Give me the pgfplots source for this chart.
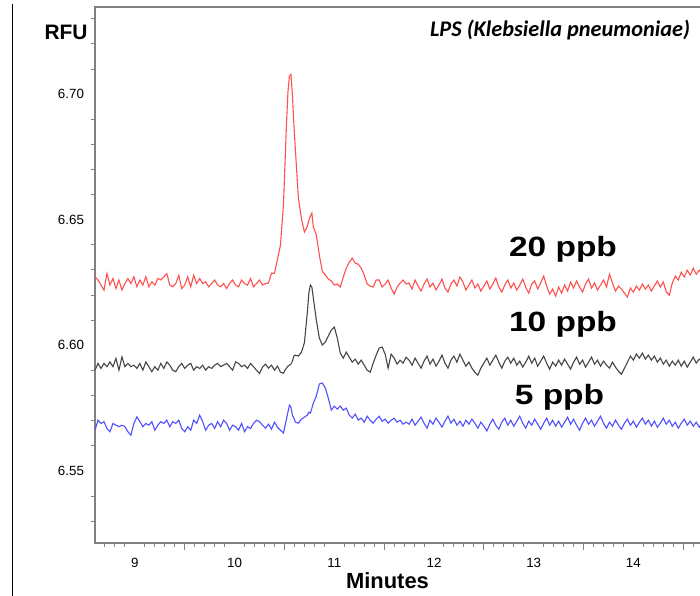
\documentclass[border=0pt]{standalone}
\usepackage{pgfplots}
\pgfplotsset{compat=1.18}
\usepackage{pgfplotstable}
\usepackage{fontspec}
\setmainfont{Liberation Sans}
\newfontfamily\calibri{Carlito}

\definecolor{spine}{RGB}{128,128,128}
\definecolor{trRed}{RGB}{255,80,80}
\definecolor{trBlack}{RGB}{70,70,70}
\definecolor{trBlue}{RGB}{80,80,255}

% minutes, 20 ppb, 10 ppb, 5 ppb (RFU)
\pgfplotstableread{
x r k u
8.60 6.6273 6.5901 6.5662
8.63 6.6260 6.5928 6.5702
8.66 6.6240 6.5908 6.5689
8.69 6.6220 6.5928 6.5696
8.72 6.6286 6.5915 6.5669
8.75 6.6240 6.5934 6.5656
8.78 6.6266 6.5915 6.5689
8.81 6.6226 6.5948 6.5682
8.84 6.6260 6.5901 6.5676
8.87 6.6220 6.5954 6.5682
8.90 6.6246 6.5915 6.5676
8.93 6.6266 6.5928 6.5656
8.96 6.6246 6.5915 6.5642
8.99 6.6273 6.5921 6.5689
9.02 6.6233 6.5908 6.5715
9.05 6.6260 6.5928 6.5696
9.08 6.6240 6.5901 6.5676
9.11 6.6273 6.5934 6.5689
9.14 6.6233 6.5915 6.5682
9.17 6.6253 6.5895 6.5696
9.20 6.6240 6.5915 6.5662
9.23 6.6266 6.5901 6.5682
9.26 6.6260 6.5928 6.5696
9.29 6.6273 6.5908 6.5689
9.32 6.6286 6.5934 6.5702
9.35 6.6240 6.5921 6.5676
9.38 6.6233 6.5901 6.5696
9.41 6.6246 6.5895 6.5689
9.44 6.6279 6.5915 6.5702
9.47 6.6226 6.5928 6.5669
9.50 6.6240 6.5908 6.5656
9.53 6.6273 6.5921 6.5676
9.56 6.6233 6.5928 6.5662
9.59 6.6279 6.5901 6.5702
9.62 6.6246 6.5915 6.5689
9.65 6.6266 6.5908 6.5722
9.68 6.6246 6.5921 6.5696
9.71 6.6253 6.5901 6.5662
9.74 6.6233 6.5915 6.5682
9.77 6.6246 6.5908 6.5689
9.80 6.6260 6.5921 6.5669
9.83 6.6240 6.5928 6.5696
9.86 6.6233 6.5915 6.5676
9.89 6.6246 6.5921 6.5702
9.92 6.6226 6.5928 6.5689
9.95 6.6246 6.5915 6.5662
9.98 6.6260 6.5901 6.5682
10.01 6.6240 6.5934 6.5676
10.04 6.6233 6.5928 6.5662
10.07 6.6260 6.5915 6.5689
10.10 6.6246 6.5921 6.5656
10.13 6.6240 6.5908 6.5676
10.16 6.6266 6.5928 6.5669
10.19 6.6233 6.5915 6.5689
10.22 6.6246 6.5901 6.5702
10.25 6.6260 6.5888 6.5696
10.28 6.6240 6.5913 6.5682
10.31 6.6246 6.5925 6.5670
10.34 6.6248 6.5909 6.5686
10.37 6.6287 6.5921 6.5666
10.40 6.6287 6.5901 6.5694
10.43 6.6343 6.5917 6.5674
10.46 6.6399 6.5893 6.5662
10.49 6.6558 6.5889 6.5651
10.505 6.6717 6.5901 6.5678
10.52 6.6877 6.5909 6.5706
10.535 6.7008 6.5917 6.5734
10.55 6.7072 6.5921 6.5762
10.565 6.7079 6.5925 6.5754
10.58 6.6996 6.5937 6.5722
10.595 6.6877 6.5957 6.5710
10.61 6.6777 6.5961 6.5694
10.64 6.6586 6.5957 6.5690
10.67 6.6506 6.5973 6.5706
10.70 6.6451 6.6009 6.5714
10.73 6.6475 6.6132 6.5722
10.745 6.6498 6.6208 6.5734
10.76 6.6514 6.6240 6.5730
10.775 6.6526 6.6232 6.5750
10.79 6.6471 6.6188 6.5770
10.82 6.6439 6.6100 6.5798
10.85 6.6359 6.6029 6.5846
10.88 6.6295 6.6001 6.5850
10.91 6.6280 6.6013 6.5830
10.94 6.6264 6.6037 6.5790
10.97 6.6256 6.6061 6.5742
11.00 6.6240 6.6073 6.5758
11.03 6.6244 6.6029 6.5746
11.06 6.6232 6.5969 6.5758
11.09 6.6272 6.5949 6.5742
11.12 6.6307 6.5973 6.5750
11.15 6.6331 6.5953 6.5722
11.18 6.6347 6.5933 6.5710
11.21 6.6327 6.5945 6.5726
11.24 6.6323 6.5925 6.5702
11.27 6.6307 6.5941 6.5710
11.30 6.6280 6.5921 6.5694
11.33 6.6244 6.5901 6.5718
11.36 6.6236 6.5893 6.5702
11.39 6.6232 6.5929 6.5690
11.42 6.6260 6.5961 6.5706
11.45 6.6260 6.5989 6.5718
11.48 6.6232 6.5993 6.5698
11.51 6.6244 6.5965 6.5706
11.54 6.6260 6.5909 6.5690
11.57 6.6228 6.5965 6.5702
11.60 6.6204 6.5949 6.5710
11.63 6.6232 6.5925 6.5694
11.66 6.6248 6.5941 6.5702
11.69 6.6260 6.5929 6.5686
11.72 6.6244 6.5953 6.5694
11.75 6.6248 6.5941 6.5686
11.78 6.6224 6.5921 6.5706
11.81 6.6260 6.5949 6.5682
11.84 6.6236 6.5929 6.5698
11.87 6.6216 6.5909 6.5714
11.90 6.6244 6.5937 6.5690
11.93 6.6264 6.5957 6.5670
11.96 6.6232 6.5925 6.5702
11.99 6.6248 6.5945 6.5686
12.02 6.6220 6.5917 6.5710
12.05 6.6240 6.5937 6.5694
12.08 6.6264 6.5961 6.5674
12.11 6.6228 6.5929 6.5698
12.14 6.6212 6.5909 6.5718
12.17 6.6244 6.5941 6.5690
12.20 6.6260 6.5957 6.5706
12.23 6.6236 6.5933 6.5682
12.26 6.6272 6.5965 6.5698
12.29 6.6252 6.5941 6.5678
12.32 6.6220 6.5917 6.5702
12.35 6.6240 6.5933 6.5686
12.38 6.6260 6.5909 6.5706
12.41 6.6228 6.5893 6.5690
12.44 6.6244 6.5881 6.5670
12.47 6.6216 6.5909 6.5694
12.50 6.6236 6.5929 6.5678
12.53 6.6256 6.5949 6.5659
12.56 6.6224 6.5921 6.5686
12.59 6.6244 6.5941 6.5706
12.62 6.6268 6.5961 6.5682
12.65 6.6232 6.5933 6.5666
12.68 6.6212 6.5909 6.5694
12.71 6.6240 6.5937 6.5710
12.74 6.6260 6.5953 6.5682
12.77 6.6228 6.5929 6.5702
12.80 6.6248 6.5949 6.5678
12.83 6.6220 6.5921 6.5698
12.86 6.6240 6.5937 6.5718
12.89 6.6264 6.5913 6.5690
12.92 6.6232 6.5933 6.5670
12.95 6.6208 6.5957 6.5698
12.98 6.6244 6.5929 6.5682
13.01 6.6256 6.5949 6.5706
13.04 6.6224 6.5917 6.5686
13.07 6.6248 6.5937 6.5666
13.10 6.6276 6.5957 6.5690
13.13 6.6236 6.5929 6.5710
13.16 6.6204 6.5905 6.5682
13.19 6.6224 6.5933 6.5702
13.22 6.6196 6.5917 6.5678
13.25 6.6232 6.5941 6.5698
13.28 6.6208 6.5921 6.5674
13.31 6.6240 6.5945 6.5694
13.34 6.6216 6.5925 6.5714
13.37 6.6252 6.5905 6.5686
13.40 6.6228 6.5933 6.5706
13.43 6.6256 6.5953 6.5682
13.46 6.6232 6.5925 6.5662
13.49 6.6212 6.5941 6.5690
13.52 6.6244 6.5913 6.5710
13.55 6.6264 6.5933 6.5686
13.58 6.6228 6.5953 6.5702
13.61 6.6248 6.5925 6.5678
13.64 6.6220 6.5941 6.5698
13.67 6.6240 6.5917 6.5718
13.70 6.6260 6.5937 6.5690
13.73 6.6232 6.5921 6.5670
13.76 6.6283 6.5909 6.5694
13.79 6.6248 6.5933 6.5678
13.82 6.6216 6.5913 6.5702
13.85 6.6236 6.5897 6.5682
13.88 6.6224 6.5885 6.5666
13.91 6.6208 6.5909 6.5690
13.94 6.6192 6.5933 6.5706
13.97 6.6228 6.5957 6.5682
14.00 6.6212 6.5941 6.5698
14.03 6.6236 6.5965 6.5674
14.06 6.6220 6.5949 6.5694
14.09 6.6244 6.5969 6.5710
14.12 6.6224 6.5945 6.5686
14.15 6.6240 6.5961 6.5702
14.18 6.6216 6.5941 6.5678
14.21 6.6236 6.5957 6.5698
14.24 6.6256 6.5933 6.5674
14.27 6.6232 6.5949 6.5690
14.30 6.6252 6.5925 6.5710
14.33 6.6212 6.5941 6.5686
14.36 6.6200 6.5917 6.5702
14.39 6.6248 6.5937 6.5678
14.42 6.6276 6.5921 6.5694
14.45 6.6260 6.5941 6.5670
14.48 6.6291 6.5917 6.5690
14.51 6.6272 6.5937 6.5706
14.54 6.6299 6.5913 6.5682
14.57 6.6280 6.5933 6.5698
14.60 6.6307 6.5953 6.5678
14.63 6.6283 6.5929 6.5694
14.66 6.6299 6.5945 6.5674
14.69 6.6287 6.5933 6.5690
}\traces

\begin{document}
\begin{tikzpicture}
\useasboundingbox (0,0) rectangle (350bp,298bp);
% page edge rule at the far left
\draw[black, line width=0.6bp] (6.15bp,0) -- (6.15bp,296bp);

\begin{axis}[
  at={(47.5bp,26.5bp)}, anchor=south west,
  scale only axis,
  width=304.5bp, height=268bp,
  xmin=8.6, xmax=14.708,
  ymin=6.5213, ymax=6.7347,
  axis line style={spine, line width=0.6bp},
  tick pos=left, tick align=outside,
  tick style={spine, line width=0.5bp},
  major tick length=0pt, minor tick length=2bp,
  xtick={9,10,11,12,13,14},
  minor xtick={8.7,8.8,8.9,9.1,9.2,9.3,9.4,9.6,9.7,9.8,9.9,10.1,10.2,10.3,10.4,10.6,10.7,10.8,10.9,11.1,11.2,11.3,11.4,11.6,11.7,11.8,11.9,12.1,12.2,12.3,12.4,12.6,12.7,12.8,12.9,13.1,13.2,13.3,13.4,13.6,13.7,13.8,13.9,14.1,14.2,14.3,14.4,14.6,14.7},
  extra x ticks={9.5,10.5,11.5,12.5,13.5,14.5},
  extra x tick labels={},
  extra x tick style={major tick length=3.5bp},
  ytick={6.55,6.60,6.65,6.70},
  minor ytick={6.53,6.54,6.56,6.57,6.58,6.59,6.61,6.62,6.63,6.64,6.66,6.67,6.68,6.69,6.71,6.72,6.73},
  /pgf/number format/assume math mode=true,
  tick label style={font=\fontsize{6.7}{8}\selectfont, black},
  xticklabel style={yshift=-4bp},
  yticklabel style={xshift=-2bp, /pgf/number format/fixed, /pgf/number format/fixed zerofill, /pgf/number format/precision=2},
  clip=true,
]
\addplot[trRed, line width=0.55bp] table[x=x, y=r] {\traces};
\addplot[trBlack, line width=0.55bp] table[x=x, y=k] {\traces};
\addplot[trBlue, line width=0.55bp] table[x=x, y=u] {\traces};
\end{axis}

\node[font=\bfseries\fontsize{10.5}{12}\selectfont, anchor=base] at (33bp,278bp) {RFU};
\node[font=\calibri\bfseries\itshape\fontsize{11.2}{13}\selectfont, anchor=base] at (280bp,279.7bp) {LPS (Klebsiella pneumoniae)};
\node[font=\bfseries\fontsize{11}{13}\selectfont, anchor=base] at (193.75bp,4bp) {Minutes};
\node[font=\bfseries\fontsize{14}{16}\selectfont, anchor=base, xscale=1.2] at (281.5bp,169.7bp) {20 ppb};
\node[font=\bfseries\fontsize{14}{16}\selectfont, anchor=base, xscale=1.2] at (281.5bp,132bp) {10 ppb};
\node[font=\bfseries\fontsize{14}{16}\selectfont, anchor=base, xscale=1.2] at (279.75bp,95.5bp) {5 ppb};
\end{tikzpicture}
\end{document}
